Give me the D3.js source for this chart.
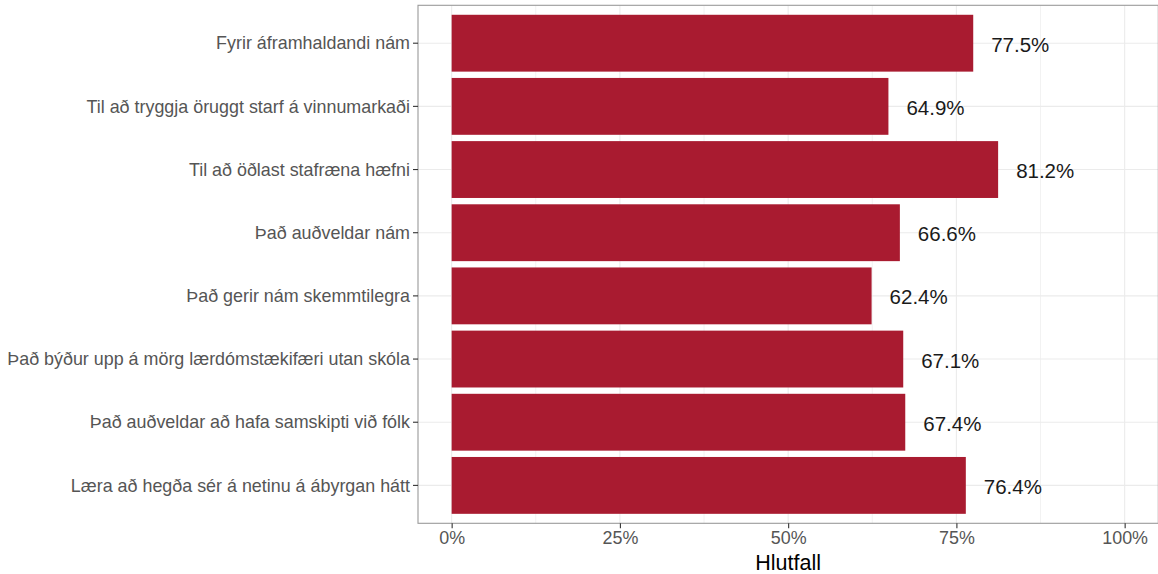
<!DOCTYPE html>
<html>
<head>
<meta charset="utf-8">
<script src="https://cdn.jsdelivr.net/npm/d3@7"></script>
<style>
  html, body { margin: 0; padding: 0; background: #ffffff; }
  svg { display: block; font-family: "Liberation Sans", Arial, Helvetica, sans-serif; }
</style>
</head>
<body>
<svg id="chart" width="1158" height="574"></svg>
<script>
const categories = [
  "Fyrir áframhaldandi nám",
  "Til að tryggja öruggt starf á vinnumarkaði",
  "Til að öðlast stafræna hæfni",
  "Það auðveldar nám",
  "Það gerir nám skemmtilegra",
  "Það býður upp á mörg lærdómstækifæri utan skóla",
  "Það auðveldar að hafa samskipti við fólk",
  "Læra að hegða sér á netinu á ábyrgan hátt"
];
const values = [0.775, 0.649, 0.812, 0.666, 0.624, 0.671, 0.674, 0.764];
const valueLabels = ["77.5%", "64.9%", "81.2%", "66.6%", "62.4%", "67.1%", "67.4%", "76.4%"];
const xTicks = [0, 0.25, 0.5, 0.75, 1];
const xTickLabels = ["0%", "25%", "50%", "75%", "100%"];
const xMinor = [0.125, 0.375, 0.625, 0.875];
const xTitle = "Hlutfall";

const svg = d3.select("#chart");
const panel = { left: 418, top: 5.3, right: 1158.3, bottom: 523.3 };

const x = d3.scaleLinear().domain([-0.05, 1.05]).range([panel.left, panel.right]);
const y = d3.scaleBand().domain(categories).range([panel.top, panel.bottom])
  .paddingInner(0.1).paddingOuter(0.15);

const g = svg.append("g");

// minor grid
g.selectAll("line.minor").data(xMinor).enter().append("line")
  .attr("x1", d => x(d)).attr("x2", d => x(d))
  .attr("y1", panel.top).attr("y2", panel.bottom)
  .attr("stroke", "#f2f2f2").attr("stroke-width", 1);
// major grid vertical
g.selectAll("line.majorx").data(xTicks).enter().append("line")
  .attr("x1", d => x(d)).attr("x2", d => x(d))
  .attr("y1", panel.top).attr("y2", panel.bottom)
  .attr("stroke", "#ebebeb").attr("stroke-width", 1.1);
// major grid horizontal
g.selectAll("line.majory").data(categories).enter().append("line")
  .attr("x1", panel.left).attr("x2", panel.right)
  .attr("y1", d => y(d) + y.bandwidth() / 2).attr("y2", d => y(d) + y.bandwidth() / 2)
  .attr("stroke", "#ebebeb").attr("stroke-width", 1.1);

// bars
g.selectAll("rect.bar").data(values).enter().append("rect")
  .attr("x", x(0))
  .attr("y", (d, i) => y(categories[i]))
  .attr("width", d => x(d) - x(0))
  .attr("height", y.bandwidth())
  .attr("fill", "#a91b30");

// value labels
g.selectAll("text.val").data(values).enter().append("text")
  .attr("x", d => x(d) + 18)
  .attr("y", (d, i) => y(categories[i]) + y.bandwidth() / 2 + 1)
  .attr("dominant-baseline", "central")
  .attr("font-size", "20.5px")
  .attr("fill", "#1a1a1a")
  .text((d, i) => valueLabels[i]);

// panel border
svg.append("rect")
  .attr("x", panel.left).attr("y", panel.top)
  .attr("width", panel.right - panel.left).attr("height", panel.bottom - panel.top)
  .attr("fill", "none").attr("stroke", "#9a9a9a").attr("stroke-width", 1.1);

// y axis
const yAxis = d3.axisLeft(y).tickSize(5).tickPadding(3);
const ya = svg.append("g").attr("transform", `translate(${panel.left},0)`).call(yAxis);
ya.select(".domain").remove();
ya.selectAll(".tick line").attr("stroke", "#333333").attr("stroke-width", 1.1);
ya.selectAll(".tick text").attr("font-size", "17.9px").attr("fill", "#555555")
  .attr("font-family", "'Liberation Sans', Arial, sans-serif").attr("dy", "0.35em");

// x axis
const xAxis = d3.axisBottom(x).tickValues(xTicks).tickFormat((d, i) => xTickLabels[i]).tickSize(5).tickPadding(3);
const xa = svg.append("g").attr("transform", `translate(0,${panel.bottom})`).call(xAxis);
xa.select(".domain").remove();
xa.selectAll(".tick line").attr("stroke", "#333333").attr("stroke-width", 1.1);
xa.selectAll(".tick text").attr("font-size", "17.9px").attr("fill", "#555555")
  .attr("font-family", "'Liberation Sans', Arial, sans-serif");

// x title
svg.append("text")
  .attr("x", (panel.left + panel.right) / 2)
  .attr("y", 563)
  .attr("text-anchor", "middle")
  .attr("dominant-baseline", "central")
  .attr("font-size", "21.5px")
  .attr("fill", "#000000")
  .text(xTitle);
</script>
</body>
</html>
